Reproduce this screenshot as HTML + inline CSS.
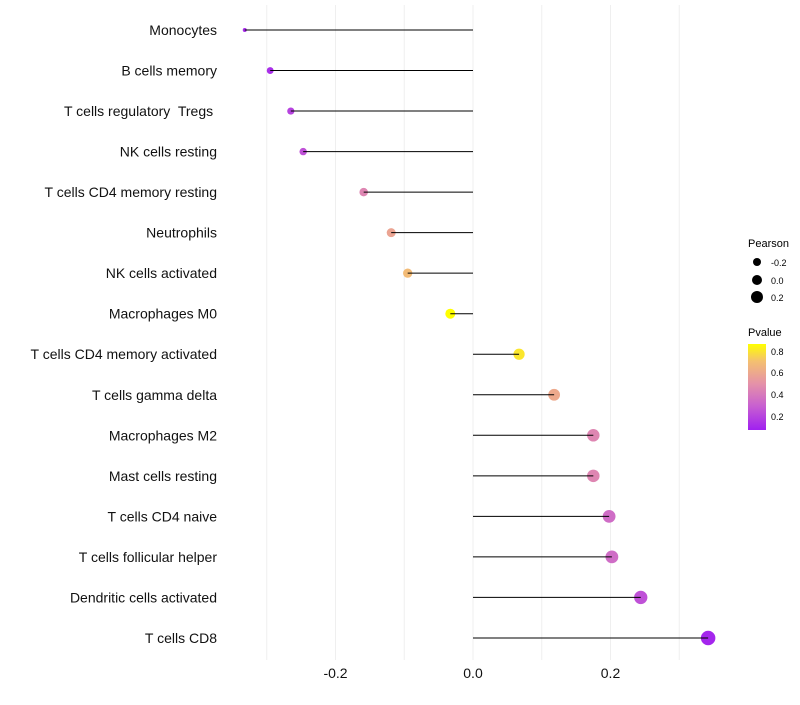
<!DOCTYPE html>
<html><head><meta charset="utf-8"><style>
body{margin:0;background:#fff;font-family:"Liberation Sans",sans-serif;}
</style></head><body>
<svg id="chart" width="800" height="700" xmlns="http://www.w3.org/2000/svg" font-family="Liberation Sans, sans-serif">
<defs><linearGradient id="pg" x1="0" y1="1" x2="0" y2="0">
<stop offset="0" stop-color="#a020f0"/><stop offset="0.28" stop-color="#c860d0"/><stop offset="0.54" stop-color="#e592a8"/><stop offset="0.8" stop-color="#f4c070"/><stop offset="1" stop-color="#ffff00"/></linearGradient></defs>
<g id="grid"></g><g id="marks"></g><g id="labels"></g>
<g>
<text x="748" y="247" font-size="11">Pearson</text>
<circle cx="757" cy="262" r="4"/><text x="771" y="266" font-size="9">-0.2</text>
<circle cx="757" cy="280" r="5"/><text x="771" y="284" font-size="9">0.0</text>
<circle cx="757" cy="297" r="6"/><text x="771" y="301" font-size="9">0.2</text>
<text x="748" y="336" font-size="11">Pvalue</text>
<rect x="748" y="344" width="18" height="86" fill="url(#pg)"/>
<text x="771" y="355" font-size="9">0.8</text><text x="771" y="376" font-size="9">0.6</text>
<text x="771" y="398" font-size="9">0.4</text><text x="771" y="420" font-size="9">0.2</text>
</g>
</svg>
<script>
const categories=["Monocytes","B cells memory","T cells regulatory  Tregs ","NK cells resting","T cells CD4 memory resting","Neutrophils","NK cells activated","Macrophages M0","T cells CD4 memory activated","T cells gamma delta","Macrophages M2","Mast cells resting","T cells CD4 naive","T cells follicular helper","Dendritic cells activated","T cells CD8"];
const pearson=[-0.332,-0.295,-0.265,-0.247,-0.159,-0.119,-0.095,-0.033,0.067,0.118,0.175,0.175,0.198,0.202,0.244,0.342];
const pvalue=[0.12,0.13,0.2,0.25,0.45,0.58,0.68,0.88,0.8,0.6,0.45,0.45,0.35,0.35,0.25,0.1];
const xTicks=[-0.2,0,0.2];
const xTickLabels=["-0.2","0.0","0.2"];
const NS="http://www.w3.org/2000/svg";
const x=v=>473+v*687.5;
const y=i=>30+i*40.53;
const r=v=>v<-0.32?2:Math.max(2,5.2+v*6);
const stops=[[0.08,[160,32,240]],[0.3,[200,96,208]],[0.5,[229,146,168]],[0.7,[244,192,112]],[0.865,[255,255,0]]];
function col(p){if(p<=stops[0][0])return`rgb(${stops[0][1]})`;for(let k=1;k<stops.length;k++){if(p<=stops[k][0]){const a=stops[k-1],b=stops[k],t=(p-a[0])/(b[0]-a[0]);return`rgb(${a[1].map((c,j)=>Math.round(c+(b[1][j]-c)*t))})`;}}return`rgb(${stops[stops.length-1][1]})`;}
function mk(t,a,p){const e=document.createElementNS(NS,t);for(const k in a)e.setAttribute(k,a[k]);p.appendChild(e);return e;}
const grid=document.getElementById('grid'),marks=document.getElementById('marks'),labels=document.getElementById('labels');
for(let v=-0.3;v<=0.31;v+=0.1){const g=mk('line',{x1:x(v),x2:x(v),y1:5,y2:660,stroke:'#efefef','stroke-width':1},grid);

}
xTicks.forEach((v,i)=>{const t=mk('text',{x:x(v),y:678,'font-size':14,'text-anchor':'middle',fill:'#111'},labels);t.textContent=xTickLabels[i];

});
categories.forEach((c,i)=>{
const t=mk('text',{x:217,y:y(i)+5,'font-size':14,'text-anchor':'end',fill:'#111','xml:space':'preserve'},labels);t.style.whiteSpace='pre';t.textContent=c;


const d=mk('circle',{cx:x(pearson[i]),cy:y(i),r:r(pearson[i]),fill:col(pvalue[i])},marks);


const l=mk('line',{x1:x(pearson[i]),x2:x(0),y1:y(i),y2:y(i),stroke:'#000','stroke-width':1},marks);


});
</script>
</body></html>
